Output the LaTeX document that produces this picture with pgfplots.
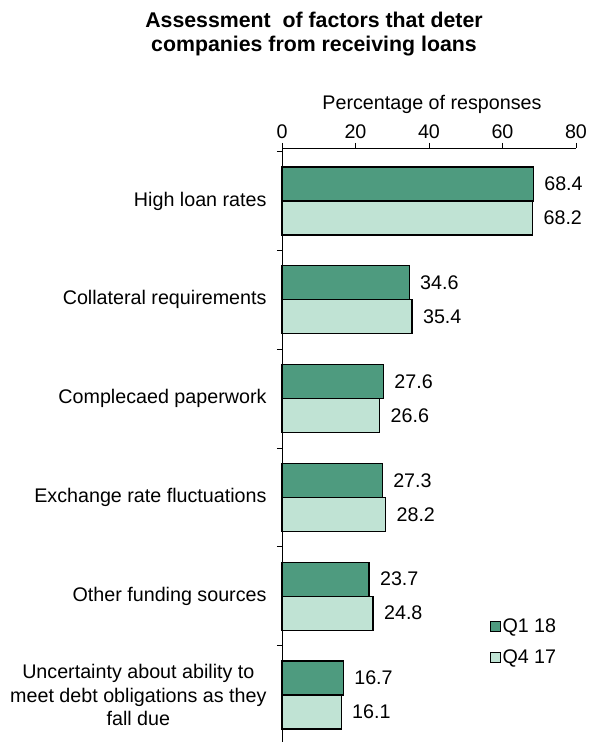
\documentclass[border=0pt]{standalone}
\usepackage{pgfplots}
\pgfplotsset{compat=1.18}
\usepackage{pgfplotstable}
\usepackage{fontspec}
\setmainfont{Liberation Sans}
\definecolor{darkg}{RGB}{78,155,127}
\definecolor{lightg}{RGB}{192,227,212}
\pgfplotstableread{
y q1 q4
5 68.4 68.2
4 34.6 35.4
3 27.6 26.6
2 27.3 28.2
1 23.7 24.8
0 16.7 16.1
}\datatable
\newcommand{\f}{\fontsize{19.7bp}{23.5bp}\selectfont}
\begin{document}
\begin{tikzpicture}
\useasboundingbox (0,0) rectangle (593bp,742bp);
\node[align=center, font=\bfseries\fontsize{21.3bp}{24bp}\selectfont] at (314bp,708bp) {Assessment\ \ of factors that deter\\companies from receiving loans};
\begin{axis}[
  at={(282bp,0bp)}, anchor=south west,
  scale only axis, width=294bp, height=594bp,
  xbar, bar width=34bp,
  xmin=0, xmax=80, ymin=-0.476, ymax=5.536,
  axis x line*=top, axis y line*=left,
  axis line style={-, line width=0.8bp},
  xtick={0,20,40,60,80},
  ytick={0,1,2,3,4,5},
  yticklabels={{Uncertainty about ability to\\meet debt obligations as they\\fall due},{Other funding sources},{Exchange rate fluctuations},{Complecaed paperwork},{Collateral requirements},{High loan rates}},
  minor ytick={0.5,1.5,2.5,3.5,4.5,5.5},
  major y tick style={draw=none},
  minor y tick style={draw=black, line width=0.8bp},
  x tick style={draw=black, line width=0.8bp},
  tick align=outside,
  major tick length=5bp, minor tick length=5bp,
  /pgf/number format/assume math mode=true,
  tick label style={font=\f},
  yticklabel style={align=center, xshift=-7bp},
  xticklabel style={yshift=1bp},
  xlabel={Percentage of responses},
  xlabel style={font=\f, yshift=4bp, xshift=3bp},
  clip=false,
  nodes near coords,
  nodes near coords style={font=\f, anchor=west, xshift=7bp, /pgf/number format/fixed, /pgf/number format/precision=1, /pgf/number format/fixed zerofill, /pgf/number format/assume math mode=true},
  legend style={draw=none, fill=none, at={(0.695,0.215)}, anchor=north west, font=\f, row sep=12bp, legend cell align=left},
  legend image code/.code={\draw[#1, draw=black, line width=1bp] (0bp,-5bp) rectangle (10bp,5bp);},
]
\addplot[fill=darkg, draw=black, line width=1.3bp, bar shift=17bp] table[x=q1, y=y] {\datatable};
\addplot[fill=lightg, draw=black, line width=1.3bp, bar shift=-17bp] table[x=q4, y=y] {\datatable};
\legend{Q1 18, Q4 17}
\end{axis}
\end{tikzpicture}
\end{document}
